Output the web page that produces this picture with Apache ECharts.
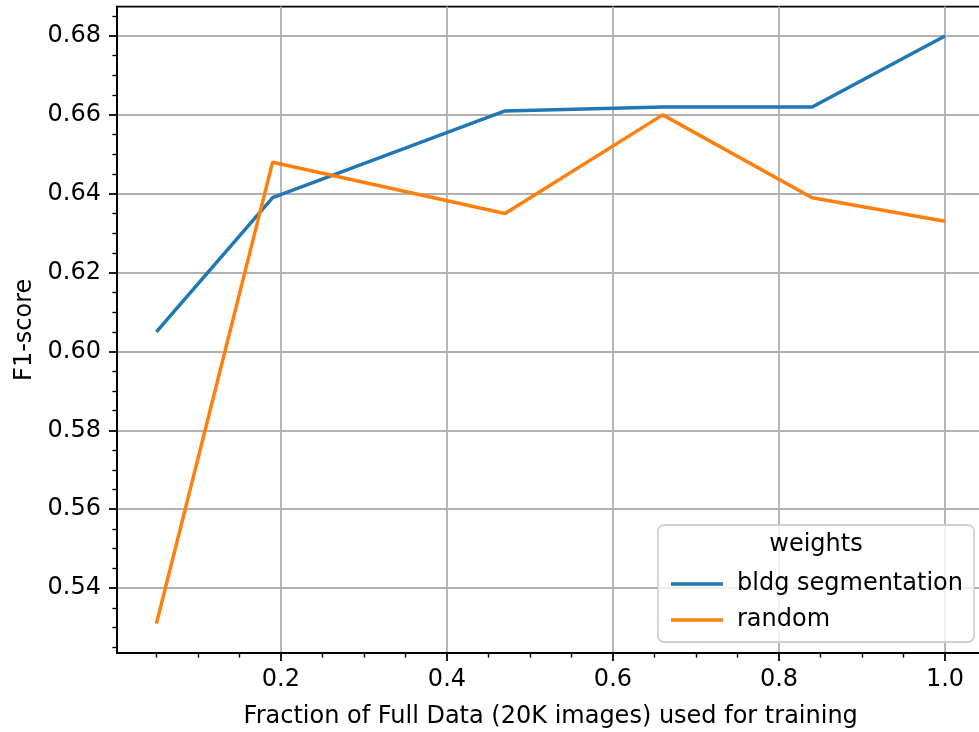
<!DOCTYPE html>
<html>
<head>
<meta charset="utf-8">
<script src="https://cdn.jsdelivr.net/npm/echarts@6/dist/echarts.min.js"></script>
<style>
  html, body { margin: 0; padding: 0; background: #fff; }
  #chart { width: 979px; height: 732px; }
</style>
</head>
<body>
<div id="chart"></div>
<script>
// fraction of the 20K images used for training
const fractions = [0.05, 0.19, 0.47, 0.66, 0.84, 1.0]
const bldgSegmentation = [0.605, 0.639, 0.661, 0.662, 0.662, 0.680]
const randomInit = [0.531, 0.648, 0.635, 0.660, 0.639, 0.633]

const xTicks = [0.2, 0.4, 0.6, 0.8, 1.0]
const xMinorTicks = [0.05, 0.1, 0.15, 0.25, 0.3, 0.35, 0.45, 0.5, 0.55, 0.65, 0.7, 0.75, 0.85, 0.9, 0.95, 1.05]
const yTicks = [0.54, 0.56, 0.58, 0.60, 0.62, 0.64, 0.66, 0.68]
const yMinorTicks = [0.525, 0.53, 0.535, 0.545, 0.55, 0.555, 0.565, 0.57, 0.575, 0.585, 0.59, 0.595,
  0.605, 0.61, 0.615, 0.625, 0.63, 0.635, 0.645, 0.65, 0.655, 0.665, 0.67, 0.675, 0.685]

const font = 'DejaVu Sans'
const chart = echarts.init(document.getElementById('chart'))

function pairs(xs, ys) {
  return xs.map((x, i) => [x, ys[i]])
}

const axisText = { color: '#000', fontFamily: font, fontSize: 24 }

chart.setOption({
  animation: false,
  textStyle: { fontFamily: font },
  grid: {
    left: 117, top: 6.6, width: 867.4, bottom: 79,
    outerBoundsMode: 'none',
    containLabel: false,
    show: true, borderColor: '#000', borderWidth: 1.8
  },
  xAxis: [
    {
      type: 'value', min: 0.0025, max: 1.0475,
      name: 'Fraction of Full Data (20K images) used for training',
      nameLocation: 'middle', nameGap: 52,
      nameTextStyle: axisText,
      axisLine: { show: true, lineStyle: { color: '#000', width: 1.8 } },
      axisTick: { show: true, length: 8, customValues: xTicks, lineStyle: { color: '#000', width: 1.8 } },
      axisLabel: { ...axisText, margin: 15, customValues: xTicks, formatter: v => v.toFixed(1) },
      splitLine: { show: true, lineStyle: { color: '#b0b0b0', width: 1.8 } }
    },
    {
      type: 'value', min: 0.0025, max: 1.0475, position: 'bottom',
      axisLine: { show: false },
      axisTick: { show: true, length: 4.6, customValues: xMinorTicks, lineStyle: { color: '#000', width: 1.4 } },
      axisLabel: { show: false },
      splitLine: { show: false }
    }
  ],
  yAxis: [
    {
      type: 'value', min: 0.52355, max: 0.68745,
      name: 'F1-score',
      nameLocation: 'middle', nameGap: 80,
      nameTextStyle: axisText,
      axisLine: { show: true, lineStyle: { color: '#000', width: 1.8 } },
      axisTick: { show: true, length: 8, customValues: yTicks, lineStyle: { color: '#000', width: 1.8 } },
      axisLabel: { ...axisText, margin: 16, customValues: yTicks, formatter: v => v.toFixed(2) },
      splitLine: { show: true, lineStyle: { color: '#b0b0b0', width: 1.8 } }
    },
    {
      type: 'value', min: 0.52355, max: 0.68745, position: 'left',
      axisLine: { show: false },
      axisTick: { show: true, length: 4.6, customValues: yMinorTicks, lineStyle: { color: '#000', width: 1.4 } },
      axisLabel: { show: false },
      splitLine: { show: false }
    }
  ],
  legend: {
    orient: 'vertical',
    left: 666, top: 566,
    z: 10,
    icon: 'rect',
    itemWidth: 52, itemHeight: 3.5,
    itemGap: 10,
    textStyle: { color: '#000', fontFamily: font, fontSize: 24, lineHeight: 26, padding: [0, 0, 0, 9] },
    data: ['bldg segmentation', 'random']
  },
  graphic: [
    {
      type: 'rect', z: 8,
      shape: { x: 658, y: 525, width: 316, height: 117, r: 6 },
      style: { fill: 'rgba(255,255,255,0.8)', stroke: '#d0d0d0', lineWidth: 1.8 }
    },
    {
      type: 'text', z: 10,
      x: 816, y: 545,
      style: { text: 'weights', fill: '#000', font: '24px "DejaVu Sans"', align: 'center', verticalAlign: 'middle' }
    }
  ],
  series: [
    {
      name: 'bldg segmentation', type: 'line',
      data: pairs(fractions, bldgSegmentation),
      showSymbol: false,
      itemStyle: { color: '#1f77b4' },
      lineStyle: { color: '#1f77b4', width: 3.5 }
    },
    {
      name: 'random', type: 'line',
      data: pairs(fractions, randomInit),
      showSymbol: false,
      itemStyle: { color: '#ff7f0e' },
      lineStyle: { color: '#ff7f0e', width: 3.5 }
    }
  ]
})
</script>
</body>
</html>
